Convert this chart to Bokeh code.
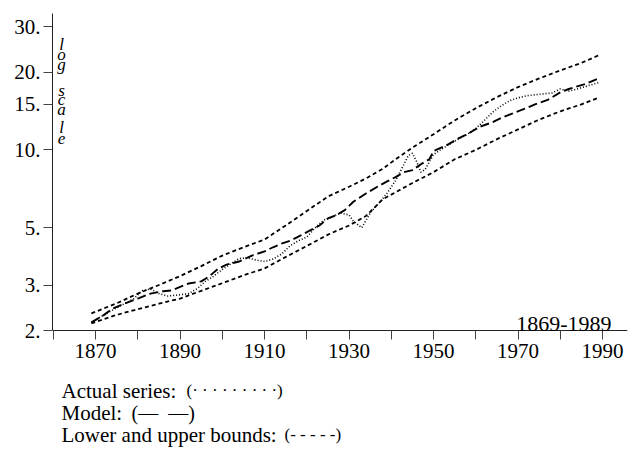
from bokeh.plotting import figure
from bokeh.models import Range1d, FixedTicker, Label
from bokeh.embed import file_html
from bokeh.resources import INLINE

# ---------------- data ----------------
actual_years = [1869, 1871, 1873, 1876, 1879, 1881, 1883, 1885, 1887, 1890, 1892, 1894,
                1896, 1898, 1900, 1902, 1904, 1906, 1908, 1910, 1912, 1914, 1916, 1918,
                1920, 1922, 1924, 1926, 1928, 1930, 1931, 1933, 1935, 1937, 1939, 1941,
                1943, 1944, 1945, 1946, 1947, 1948, 1950, 1952, 1955, 1958, 1960, 1962,
                1964, 1966, 1968, 1970, 1972, 1975, 1978, 1980, 1982, 1984, 1986, 1989]
actual_vals = [2.15, 2.25, 2.35, 2.5, 2.65, 2.85, 2.9, 2.78, 2.72, 2.75, 2.78, 2.9,
               3.1, 3.25, 3.45, 3.62, 3.8, 3.82, 3.75, 3.7, 3.78, 3.95, 4.25, 4.45,
               4.6, 5.0, 5.35, 5.5, 5.7, 5.6, 5.3, 5.0, 5.7, 6.2, 6.8, 7.6,
               8.8, 9.5, 9.7, 9.0, 8.2, 8.4, 9.6, 10.1, 10.8, 11.5, 12.1, 13.0,
               14.0, 14.8, 15.5, 15.9, 16.2, 16.4, 16.6, 17.2, 16.9, 17.2, 17.6, 18.2]

model_years = [1869, 1872, 1874, 1877, 1880, 1883, 1886, 1888, 1890, 1892, 1895, 1897,
               1899, 1901, 1904, 1907, 1910, 1912, 1914, 1916, 1918, 1921, 1923, 1925,
               1927, 1929, 1931, 1934, 1937, 1939, 1941, 1943, 1945, 1947, 1949, 1950,
               1953, 1956, 1958, 1961, 1964, 1966, 1968, 1971, 1974, 1977, 1980, 1982,
               1984, 1986, 1989]
model_vals = [2.15, 2.3, 2.43, 2.55, 2.66, 2.78, 2.84, 2.86, 2.95, 3.04, 3.1, 3.25,
              3.47, 3.6, 3.7, 3.9, 4.05, 4.2, 4.34, 4.45, 4.62, 4.9, 5.1, 5.43,
              5.6, 5.85, 6.3, 6.78, 7.25, 7.55, 7.85, 8.2, 8.35, 8.8, 9.2, 9.9,
              10.4, 11.1, 11.5, 12.3, 12.8, 13.3, 13.7, 14.3, 15.0, 15.6, 16.7, 17.2,
              17.6, 18.0, 18.9]

bound_years = [1869, 1875, 1880, 1885, 1890, 1895, 1900, 1905, 1910, 1915, 1920, 1925,
               1930, 1934, 1938, 1941, 1945, 1950, 1955, 1960, 1965, 1970, 1975, 1980,
               1985, 1989]
upper_vals = [2.33, 2.55, 2.78, 3.0, 3.25, 3.55, 3.9, 4.2, 4.5, 5.1, 5.8, 6.6,
              7.2, 7.75, 8.45, 9.2, 10.2, 11.5, 13.0, 14.5, 16.0, 17.5, 18.9, 20.3,
              21.7, 23.2]
lower_vals = [2.13, 2.3, 2.42, 2.54, 2.66, 2.85, 3.05, 3.27, 3.48, 3.85, 4.25, 4.7,
              5.1, 5.55, 6.45, 6.85, 7.45, 8.2, 9.2, 10.0, 11.0, 12.0, 13.1, 14.1,
              15.0, 15.9]

x_ticks = [1860, 1870, 1880, 1890, 1900, 1910, 1920, 1930, 1940, 1950, 1960, 1970, 1980, 1990]
x_tick_labels = ["", "1870", "", "1890", "", "1910", "", "1930", "", "1950", "", "1970", "", "1990"]
y_ticks = [2, 3, 5, 10, 15, 20, 30]
y_tick_labels = ["2.", "3.", "5.", "10.", "15.", "20.", "30."]

period_text = "1869-1989"
ylabel_text = "log scale"
legend_names = ["Actual series:", "Model:", "Lower and upper bounds:"]
legend_marks = ["(\u00b7 \u00b7 \u00b7 \u00b7 \u00b7 \u00b7 \u00b7 \u00b7 \u00b7)",
                "(\u2014\u2002\u2014)",
                "(- - - - -)"]

# ---------------- layout / style ----------------
FONT = "Liberation Serif"
W, H = 629, 450
LEFT = 52                      # frame left (window px)
X_START, X_END = 1859.8, 1995.9
AXIS_Y = 2                     # value where the time axis is drawn
Y_BOTTOM, Y_TOP = 0.687, 33.7

p = figure(width=W, height=H, x_range=Range1d(X_START, X_END),
           y_range=Range1d(Y_BOTTOM, Y_TOP), y_axis_type="log",
           output_backend="svg", toolbar_location=None)
p.min_border_left = LEFT
p.min_border_right = 2
p.min_border_top = 13
p.min_border_bottom = 0
p.outline_line_color = None
p.xgrid.grid_line_color = None
p.ygrid.grid_line_color = None
p.background_fill_color = "white"
p.border_fill_color = "white"

for ax in (p.xaxis[0], p.yaxis[0]):
    ax.axis_line_color = "#222222"
    ax.axis_line_width = 1
    ax.major_tick_line_color = "#444444"
    ax.major_tick_in = 0
    ax.major_tick_out = 9
    ax.minor_tick_line_color = None
    ax.major_label_text_font = FONT
    ax.major_label_text_font_size = "21px"
    ax.major_label_text_color = "black"

p.xaxis.fixed_location = AXIS_Y
p.xaxis.ticker = FixedTicker(ticks=x_ticks)
p.xaxis.major_label_overrides = {t: l for t, l in zip(x_ticks, x_tick_labels)}
p.xaxis.major_label_standoff = 4
p.yaxis.ticker = FixedTicker(ticks=y_ticks)
p.yaxis.major_label_overrides = {t: l for t, l in zip(y_ticks, y_tick_labels)}
p.yaxis.major_label_standoff = 3
p.yaxis.bounds = (AXIS_Y, Y_TOP)

p.line(bound_years, upper_vals, line_color="black", line_width=1.8, line_dash="4 3")
p.line(bound_years, lower_vals, line_color="black", line_width=1.8, line_dash="4 3")
p.line(actual_years, actual_vals, line_color="black", line_width=1.6, line_dash="1 2")
p.line(model_years, model_vals, line_color="black", line_width=1.9, line_dash="9 4")

def lab(x, y, text, size, align="left", style="normal"):
    # screen coords relative to the frame's bottom-left corner (window y -> H - y)
    p.add_layout(Label(x=x - LEFT, y=H - y, x_units="screen", y_units="screen", text=text,
                       text_align=align, text_baseline="alphabetic", text_font=FONT,
                       text_font_style=style, text_font_size=size, text_color="black"))

lab(611, 323, period_text, "22px", align="right")

letter_baselines = [44, 54, 64, 90, 99, 109, 127, 138]
letters = [c for c in ylabel_text if c != " "]
for ch, b in zip(letters, letter_baselines):
    lab(61, b, ch, "17px", align="center", style="italic")

name_y = [390, 412, 434]
mark_x = [186, 131, 284]
mark_size = ["17px", "20px", "17px"]
for name, mark, yy, mx, ms in zip(legend_names, legend_marks, name_y, mark_x, mark_size):
    lab(61, yy, name, "21px")
    lab(mx, yy, mark, ms)

open("out.html", "w").write(file_html(p, INLINE))
